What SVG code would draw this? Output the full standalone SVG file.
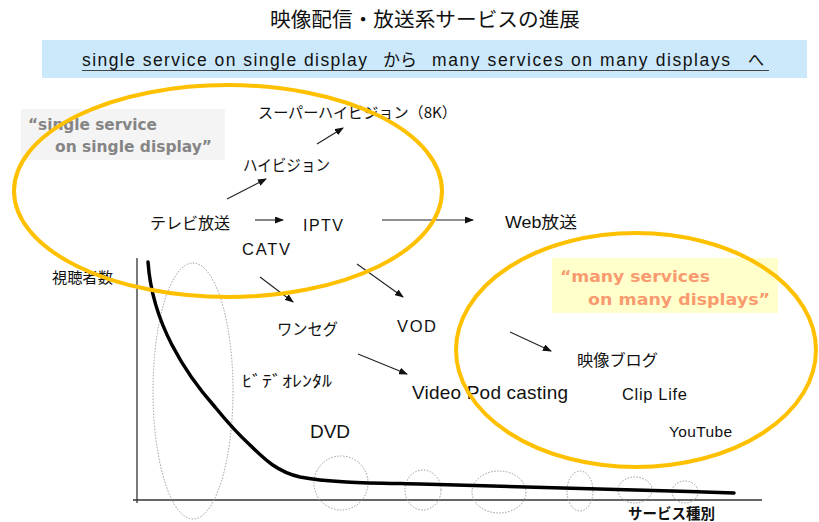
<svg xmlns="http://www.w3.org/2000/svg" width="819" height="522" viewBox="0 0 819 522">
<style>
.jp{font-family:"Noto Sans CJK JP","Noto Sans CJK SC",sans-serif;fill:#111}
.en{font-family:"Liberation Sans","Noto Sans CJK JP",Arial,sans-serif;fill:#111}
.q1{font-family:"DejaVu Sans",Verdana,sans-serif;font-weight:bold;fill:#858585;font-size:15.5px}
.q2{font-family:"DejaVu Sans",Verdana,sans-serif;font-weight:bold;fill:#f99b6f;font-size:16.5px}
.dot{fill:none;stroke:#9a9a9a;stroke-width:1;stroke-dasharray:1.5 1.5}
.orange{fill:none;stroke:#ffc000;stroke-width:4}
.arrow{stroke:#222;stroke-width:1.1;fill:none;marker-end:url(#ah)}
.axis{stroke:#333;stroke-width:1.3;fill:none}
</style>
<defs>
<marker id="ah" markerUnits="userSpaceOnUse" markerWidth="9" markerHeight="7" refX="8" refY="3.5" orient="auto">
<path d="M0,0 L9,3.5 L0,7 z" fill="#111"/>
</marker>
</defs>
<rect width="819" height="522" fill="#ffffff"/>

<g id="title">
<text class="jp" x="270" y="27" font-size="20" textLength="310" lengthAdjust="spacingAndGlyphs">映像配信・放送系サービスの進展</text>
</g>

<g id="subtitle">
<rect x="42" y="40" width="765" height="38" fill="#cce9fc"/>
<text class="en" y="66" font-size="17.5" fill="#222">
<tspan x="82" textLength="285" lengthAdjust="spacing">single service on single display</tspan>
<tspan x="383" class="jp" textLength="34" lengthAdjust="spacingAndGlyphs">から</tspan>
<tspan x="432" textLength="298" lengthAdjust="spacing">many services on many displays</tspan>
<tspan x="748" class="jp" textLength="16" lengthAdjust="spacingAndGlyphs">へ</tspan>
</text>
<line x1="82" y1="70.5" x2="769" y2="70.5" stroke="#444" stroke-width="1.2"/>
</g>

<g id="quote-single">
<rect x="21" y="109" width="204" height="51" fill="#f4f4f4"/>
<text class="q1" x="28" y="130" textLength="129" lengthAdjust="spacingAndGlyphs">“single service</text>
<text class="q1" x="55" y="152" textLength="157" lengthAdjust="spacingAndGlyphs">on single display”</text>
</g>

<g id="quote-many">
<rect x="552" y="258" width="226" height="55" fill="#ffffcc"/>
<text class="q2" x="560" y="282" textLength="150" lengthAdjust="spacingAndGlyphs">“many services</text>
<text class="q2" x="588" y="305" textLength="182" lengthAdjust="spacingAndGlyphs">on many displays”</text>
</g>

<g id="axes">
<line class="axis" x1="137" y1="258" x2="137" y2="503"/>
<line class="axis" x1="133" y1="500" x2="762" y2="500"/>
<text class="jp" x="52" y="283" font-size="15" fill="#333" textLength="61" lengthAdjust="spacingAndGlyphs">視聴者数</text>
<text class="jp" x="628" y="519" font-size="15" font-weight="bold" fill="#222" textLength="87" lengthAdjust="spacingAndGlyphs">サービス種別</text>
</g>

<g id="dotted-groups">
<ellipse class="dot" cx="193" cy="391" rx="40" ry="128"/>
<ellipse class="dot" cx="341" cy="483" rx="27" ry="27"/>
<ellipse class="dot" cx="423" cy="490" rx="18" ry="20"/>
<ellipse class="dot" cx="499" cy="492" rx="27" ry="21"/>
<ellipse class="dot" cx="580" cy="491" rx="13" ry="20"/>
<ellipse class="dot" cx="635" cy="490" rx="17" ry="13"/>
<ellipse class="dot" cx="685" cy="492" rx="13" ry="11"/>
</g>

<g id="long-tail-curve">
<path d="M148,262 C150,290 158,318 172,345 C185,370 198,388 215,407 C228,423 238,434 250,445 C265,460 278,472 300,477 C330,483 380,483 420,484 C500,486 620,489 734,493" fill="none" stroke="#000" stroke-width="3.5" stroke-linecap="round"/>
</g>

<g id="node-superhi"><text class="jp" x="258" y="118" font-size="15" textLength="199" lengthAdjust="spacingAndGlyphs">スーパーハイビジョン（8K）</text></g>
<g id="node-hivision"><text class="jp" x="243" y="171" font-size="16" textLength="87" lengthAdjust="spacingAndGlyphs">ハイビジョン</text></g>
<g id="node-tv"><text class="jp" x="150" y="229" font-size="16" textLength="80" lengthAdjust="spacingAndGlyphs">テレビ放送</text></g>
<g id="node-iptv"><text class="en" x="303" y="231" font-size="16" textLength="40" lengthAdjust="spacing">IPTV</text></g>
<g id="node-web"><text class="en" x="505" y="228" font-size="16" textLength="72" lengthAdjust="spacingAndGlyphs">Web放送</text></g>
<g id="node-catv"><text class="en" x="242" y="255" font-size="16.5" textLength="48" lengthAdjust="spacing">CATV</text></g>
<g id="node-oneseg"><text class="jp" x="277" y="335" font-size="16" textLength="61" lengthAdjust="spacingAndGlyphs">ワンセグ</text></g>
<g id="node-vod"><text class="en" x="397" y="332" font-size="16.5" textLength="39" lengthAdjust="spacing">VOD</text></g>
<g id="node-rental"><text class="jp" x="242" y="387" font-size="16" textLength="90" lengthAdjust="spacingAndGlyphs">ﾋﾞﾃﾞｵﾚﾝﾀﾙ</text></g>
<g id="node-dvd"><text class="en" x="310" y="438" font-size="19" textLength="40" lengthAdjust="spacing">DVD</text></g>
<g id="node-podcast"><text class="en" x="412" y="399" font-size="19" textLength="156" lengthAdjust="spacing">Video Pod casting</text></g>
<g id="node-videoblog"><text class="jp" x="577" y="366" font-size="16" textLength="81" lengthAdjust="spacingAndGlyphs">映像ブログ</text></g>
<g id="node-cliplife"><text class="en" x="622" y="400" font-size="16.5" textLength="65" lengthAdjust="spacing">Clip Life</text></g>
<g id="node-youtube"><text class="en" x="669" y="437" font-size="15.5" fill="#3a3a3a" textLength="63" lengthAdjust="spacing">YouTube</text></g>

<g id="connectors">
<line class="arrow" x1="227" y1="199" x2="266" y2="179"/>
<line class="arrow" x1="317" y1="144" x2="343" y2="128"/>
<line class="arrow" x1="255" y1="220" x2="283" y2="220"/>
<line class="arrow" x1="382" y1="220" x2="473" y2="220"/>
<line class="arrow" x1="260" y1="277" x2="293" y2="302"/>
<line class="arrow" x1="357" y1="264" x2="403" y2="297"/>
<line class="arrow" x1="358" y1="354" x2="407" y2="374"/>
<line class="arrow" x1="510" y1="332" x2="551" y2="351"/>
</g>

<g id="highlight-ellipses">
<ellipse class="orange" cx="228" cy="191" rx="214" ry="106"/>
<ellipse class="orange" cx="636" cy="350" rx="180" ry="117"/>
</g>
</svg>
